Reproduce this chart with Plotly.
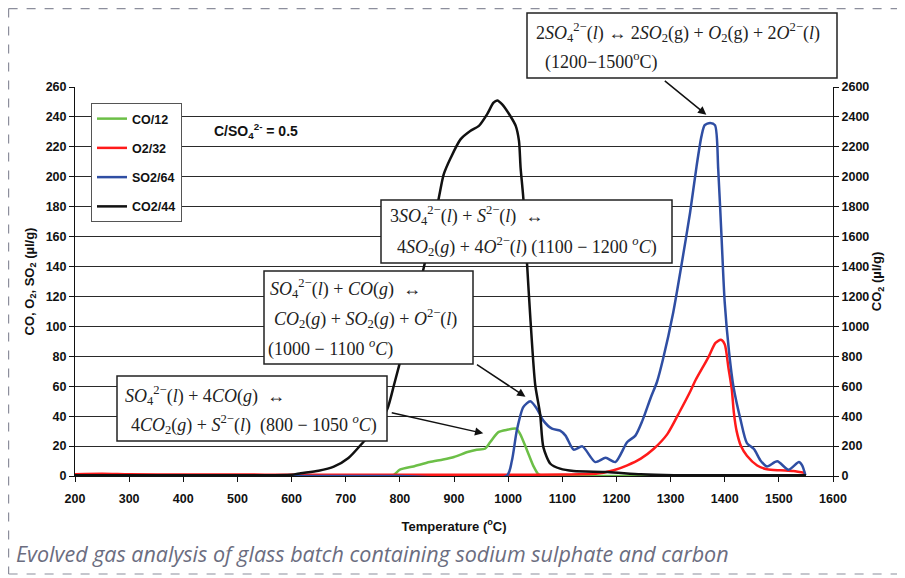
import plotly.graph_objects as go

# ---------------- data ----------------
co_x = [200, 400, 600, 785, 800, 825, 855, 880, 900, 925, 942, 957, 967, 982, 998, 1015, 1022, 1035, 1047, 1056, 1065, 1100, 1200, 1300, 1400, 1500, 1550]
co_y = [0, 0, 0, 0, 4.2, 6.4, 9.3, 11, 12.7, 16, 17.6, 18.2, 22.7, 29.3, 30.9, 31.6, 28.2, 17.1, 6.4, 1.1, 0, 0, 0, 0, 0, 0, 0]

o2_x = [200, 250, 300, 400, 500, 600, 700, 800, 900, 1000, 1100, 1165, 1195, 1220, 1245, 1269, 1294, 1318, 1337, 1346, 1370, 1383, 1393, 1400, 1407, 1413, 1417, 1422, 1430, 1441, 1460, 1478, 1503, 1527, 1549]
o2_y = [1.2, 1.5, 1.2, 1.0, 1.0, 0.8, 0.8, 0.8, 0.8, 0.8, 1.0, 1.6, 3.8, 7.1, 11.6, 18.2, 28, 43.8, 57, 64, 79.5, 89, 91, 88, 72, 58, 42, 30, 20, 13.5, 7, 4.5, 3.8, 3.3, 2]

so2_x = [200, 400, 600, 800, 997, 1007, 1016, 1028, 1041, 1053, 1065, 1081, 1096, 1106, 1121, 1137, 1161, 1180, 1198, 1220, 1235, 1248, 1263, 1275, 1286, 1305, 1320, 1336, 1348, 1357, 1363, 1373, 1382, 1388, 1394, 1400, 1408, 1416, 1429, 1441, 1454, 1466, 1478, 1497, 1518, 1537, 1543, 1549]
so2_y = [0, 0, 0, 0, 0, 10.4, 30.4, 46, 50, 45, 37, 31.6, 30.4, 27, 17.6, 19.8, 9.3, 12.2, 9.3, 22.7, 27, 37, 52, 63, 78, 109.5, 140.7, 176, 207, 227, 234.5, 236, 234.5, 205, 160.7, 116, 83, 60, 38, 22, 18, 10.4, 6.4, 9.8, 4.2, 9.3, 7.1, 0.5]

co2_x = [200, 300, 400, 500, 600, 617, 650, 678, 705, 733, 757, 777, 790, 806, 825, 844, 860, 872, 881, 894, 912, 930, 946, 961, 973, 980, 989, 1004, 1014, 1020, 1023, 1028, 1035, 1041, 1050, 1059, 1065, 1078, 1096, 1121, 1183, 1245, 1306, 1400, 1500, 1550]
co2_y = [5, 5, 5, 5, 8, 18, 35, 62, 120, 229, 330, 450, 620, 840, 1100, 1390, 1650, 1860, 2016, 2127, 2250, 2306, 2340, 2417, 2495, 2510, 2484, 2406, 2340, 2240, 2060, 1860, 1414, 1057, 610, 416, 193, 82, 49, 33, 27, 11, 5, 5, 5, 5]

series_names = ["CO/12", "O2/32", "SO2/64", "CO2/44"]
series_colors = ["#6cbf47", "#ff1a1a", "#2f4ea3", "#111111"]

x_ticks = list(range(200, 1601, 100))
y_left_ticks = list(range(0, 261, 20))
y_right_ticks = list(range(0, 2601, 200))

# ---------------- geometry helpers (screen px -> paper) ----------------
OFF = 8  # page body margin
W, H = 905 - OFF, 578 - OFF
L, T = 75 - OFF, 87 - OFF
PW, PH = 758, 389
R = W - L - PW
B = H - T - PH


def xp(px):
    return (px - OFF - L) / PW


def yp(py):
    return (T + PH - (py - OFF)) / PH


fig = go.Figure()
for xs, ys, nm, col, ax in [
    (co_x, co_y, series_names[0], series_colors[0], "y"),
    (o2_x, o2_y, series_names[1], series_colors[1], "y"),
    (so2_x, so2_y, series_names[2], series_colors[2], "y"),
    (co2_x, co2_y, series_names[3], series_colors[3], "y2"),
]:
    fig.add_trace(go.Scatter(x=xs, y=ys, name=nm, mode="lines", yaxis=ax,
                             line=dict(color=col, width=2.5, shape="spline", smoothing=0.7),
                             legendgroup=nm))

tickfont = dict(family="Liberation Sans, Arial", size=12.5, color="#111", weight="bold")
titlefont = dict(family="Liberation Sans, Arial", size=13, color="#111", weight="bold")
fig.update_layout(
    width=W, height=H,
    margin=dict(l=L, r=R, t=T, b=B),
    paper_bgcolor="white", plot_bgcolor="white",
    showlegend=True,
    legend=dict(x=xp(91), y=yp(103), xanchor="left", yanchor="top",
                bgcolor="white", bordercolor="#555", borderwidth=1,
                font=dict(family="Liberation Sans, Arial", size=12.5, color="#111", weight="bold"),
                tracegroupgap=10, traceorder="grouped"),
    xaxis=dict(range=[200, 1600], tickvals=x_ticks, ticks="outside", ticklen=5, tickcolor="#111",
               showline=True, linecolor="#111", linewidth=1, showgrid=False, zeroline=False,
               tickfont=tickfont, ticklabelstandoff=6,
               title=dict(text="Temperature (<sup>o</sup>C)", standoff=16, font=titlefont)),
    yaxis=dict(range=[0, 260], tickvals=y_left_ticks, ticks="outside", ticklen=5, tickcolor="#111",
               showline=True, linecolor="#111", linewidth=1, showgrid=True, gridcolor="#2a2a2a",
               gridwidth=1, zeroline=False, tickfont=tickfont,
               title=dict(text="CO, O<sub>2</sub>, SO<sub>2</sub> (µl/g)", standoff=8, font=titlefont)),
    yaxis2=dict(range=[0, 2600], tickvals=y_right_ticks, ticks="outside", ticklen=5, tickcolor="#111",
                overlaying="y", side="right", showline=True, linecolor="#111", linewidth=1,
                showgrid=False, zeroline=False, tickfont=tickfont,
                title=dict(text="CO<sub>2</sub> (µl/g)", standoff=0, font=titlefont)),
)

shapes = []
annotations = []

# dashed frame
frame_col = "#8c8e9c"
for (x0, y0, x1, y1) in [(8.6, 8.6, 905, 8.6), (8.6, 8.6, 8.6, 574), (8.6, 574, 905, 574)]:
    shapes.append(dict(type="line", xref="paper", yref="paper", x0=xp(x0), y0=yp(y0), x1=xp(x1), y1=yp(y1),
                       line=dict(color=frame_col, width=1.2, dash="dash"), layer="above"))

serif = "Liberation Serif, Times New Roman, serif"
eq_size = 18


def box(x0, y0, x1, y1, lines):
    shapes.append(dict(type="rect", xref="paper", yref="paper", x0=xp(x0), y0=yp(y0), x1=xp(x1), y1=yp(y1),
                       line=dict(color="#222", width=1.5), fillcolor="white", layer="above"))
    for (lx, ly, txt) in lines:
        annotations.append(dict(xref="paper", yref="paper", x=xp(lx), y=yp(ly), xanchor="left", yanchor="middle",
                                text=txt, showarrow=False, font=dict(family=serif, size=eq_size, color="#222")))


S4 = "<i>SO</i><sub>4</sub><sup>2−</sup>"
box(527, 13, 837, 78, [
    (534, 33, "2" + S4 + "(<i>l</i>) ↔ 2<i>SO</i><sub>2</sub>(g) + <i>O</i><sub>2</sub>(g) + 2<i>O</i><sup>2−</sup>(<i>l</i>)"),
    (543, 61, "(1200−1500<sup>o</sup>C)"),
])
box(381, 200, 672, 263, [
    (388, 216, "3" + S4 + "(<i>l</i>) + <i>S</i><sup>2−</sup>(<i>l</i>)  ↔"),
    (395, 246, "4<i>SO</i><sub>2</sub>(<i>g</i>) + 4<i>O</i><sup>2−</sup>(<i>l</i>) (1100 − 1200 <sup><i>o</i></sup><i>C</i>)"),
])
box(264, 271, 473, 364, [
    (268, 288, S4 + "(<i>l</i>) + <i>CO</i>(<i>g</i>)  ↔"),
    (272, 318, "<i>CO</i><sub>2</sub>(<i>g</i>) + <i>SO</i><sub>2</sub>(<i>g</i>) + <i>O</i><sup>2−</sup>(<i>l</i>)"),
    (266, 348, "(1000 − 1100 <sup><i>o</i></sup><i>C</i>)"),
])
box(117, 376, 387, 441, [
    (123, 395, S4 + "(<i>l</i>) + 4<i>CO</i>(<i>g</i>)  ↔"),
    (129, 424, "4<i>CO</i><sub>2</sub>(<i>g</i>) + <i>S</i><sup>2−</sup>(<i>l</i>)  (800 − 1050 <sup><i>o</i></sup><i>C</i>)"),
])

# arrows (head in data coords, tail offset in px)
for hx, hy, axo, ayo in [(1366, 241.5, -43, -35), (1032, 53, -50, -33), (954, 28.5, -93, -21)]:
    annotations.append(dict(x=hx, y=hy, xref="x", yref="y", ax=axo, ay=ayo, text="", showarrow=True,
                            arrowhead=2, arrowsize=1.1, arrowwidth=1.5, arrowcolor="#111", standoff=0))

# ratio label
annotations.append(dict(xref="paper", yref="paper", x=xp(212), y=yp(131), xanchor="left", yanchor="middle",
                        text="C/SO<sub>4</sub><sup>2-</sup> = 0.5", showarrow=False,
                        font=dict(family="Liberation Sans, Arial", size=14, color="#111", weight="bold")))

# caption
annotations.append(dict(xref="paper", yref="paper", x=xp(14), y=yp(553), xanchor="left", yanchor="middle",
                        text="<i>Evolved gas analysis of glass batch containing sodium sulphate and carbon</i>",
                        showarrow=False, font=dict(family="Open Sans, Roboto, sans-serif", size=21.5, color="#6b6d80")))

fig.update_layout(shapes=shapes, annotations=annotations)
fig.write_html("out.html")
